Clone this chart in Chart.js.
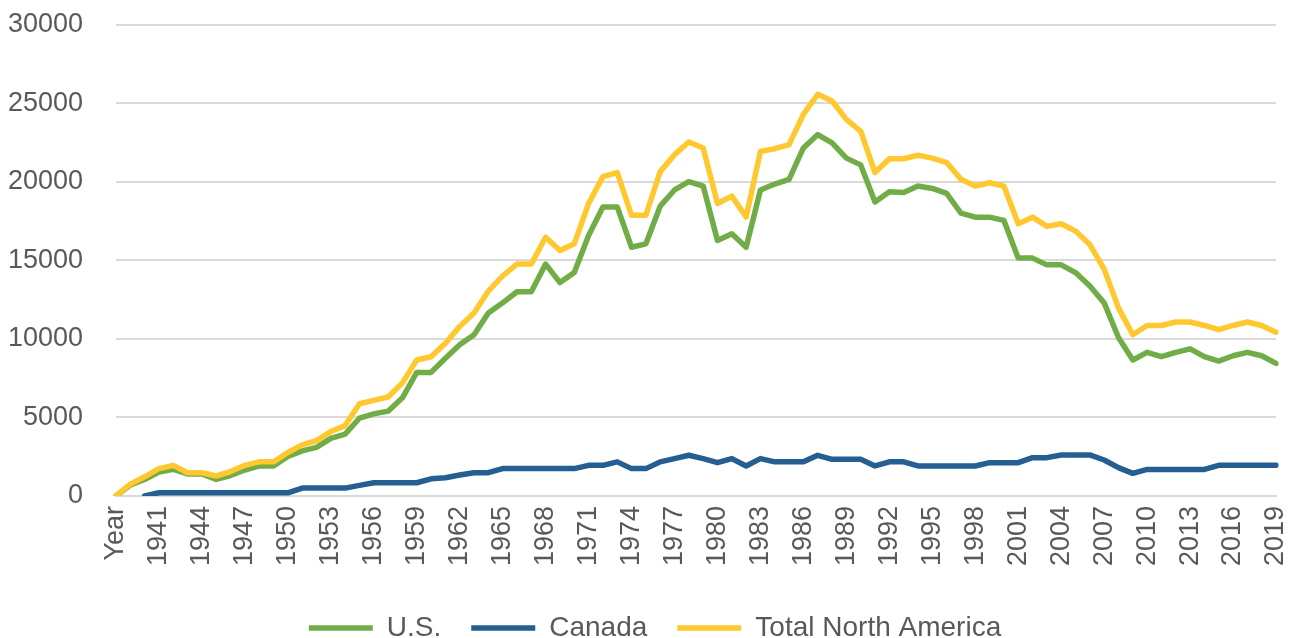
<!DOCTYPE html>
<html>
<head>
<meta charset="utf-8">
<script src="https://cdn.jsdelivr.net/npm/chart.js@4.4.0/dist/chart.umd.min.js"></script>
<style>
  html, body { margin: 0; padding: 0; background: #ffffff; }
  #wrap { width: 1290px; height: 638px; position: relative; }
</style>
</head>
<body>
<div id="wrap"><canvas id="prodChart"></canvas></div>
<script>
    // categories: header cell "Year" then 1939..2019
    const years = ['Year'];
    for (let y = 1939; y <= 2019; y++) years.push(String(y));

    const usValues = [
        0, 700, 1050, 1520, 1690, 1400, 1400, 1050, 1300, 1650,
        1910, 1910, 2510, 2870, 3090, 3670, 3940, 4950, 5230, 5400,
        6250, 7870, 7870, 8770, 9630, 10270, 11660, 12300, 13010, 13010,
        14770, 13590, 14230, 16590, 18410, 18410, 15840, 16060, 18460, 19490,
        20020, 19740, 16270, 16700, 15840, 19490, 19870, 20170, 22170, 23020,
        22490, 21520, 21090, 18730, 19380, 19330, 19740, 19590, 19270, 18020,
        17760, 17760, 17550, 15150, 15150, 14720, 14720, 14230, 13370, 12300,
        10090, 8660, 9150, 8870, 9150, 9370, 8870, 8590, 8930, 9150,
        8930, 8440
    ];

    const canadaValues = [
        null, null, 0, 200, 200, 200, 200, 200, 200, 200,
        200, 200, 200, 500, 500, 500, 500, 670, 840, 840,
        840, 840, 1090, 1160, 1330, 1480, 1480, 1740, 1740, 1740,
        1740, 1740, 1740, 1950, 1950, 2170, 1740, 1740, 2170, 2380,
        2590, 2380, 2120, 2380, 1910, 2380, 2170, 2170, 2170, 2590,
        2330, 2330, 2330, 1910, 2170, 2170, 1910, 1910, 1910, 1910,
        1910, 2120, 2120, 2120, 2440, 2440, 2610, 2610, 2610, 2290,
        1800, 1440, 1690, 1690, 1690, 1690, 1690, 1950, 1950, 1950,
        1950, 1950
    ];

    const totalValues = [
        0, 750, 1220, 1740, 1950, 1480, 1480, 1270, 1550, 1950,
        2170, 2170, 2770, 3250, 3520, 4100, 4480, 5870, 6090, 6300,
        7200, 8660, 8870, 9730, 10800, 11660, 13050, 14020, 14770, 14770,
        16480, 15630, 16060, 18630, 20340, 20600, 17880, 17880, 20660, 21740,
        22550, 22170, 18630, 19100, 17770, 21950, 22120, 22380, 24310, 25590,
        25160, 23990, 23230, 20600, 21480, 21480, 21700, 21520, 21240, 20170,
        19740, 19950, 19740, 17340, 17760, 17170, 17340, 16870, 16010, 14450,
        11980, 10270, 10860, 10860, 11080, 11080, 10860, 10590, 10860, 11080,
        10860, 10430
    ];

    const yTicks = [0, 5000, 10000, 15000, 20000, 25000, 30000];

    const textColor = '#595959';
    const gridColor = '#D9D9D9';
    const fontFamily = '"Liberation Sans", Arial, sans-serif';

    function lineSet(label, data, color, order) {
        return {
            label: label,
            data: data,
            borderColor: color,
            backgroundColor: color,
            borderWidth: 5.5,
            borderCapStyle: 'round',
            borderJoinStyle: 'round',
            pointRadius: 0,
            pointHoverRadius: 0,
            tension: 0,
            fill: false,
            spanGaps: false,
            order: order
        };
    }

    // legend sits a little right of centre in the original
    const legendShift = {
        id: 'legendShift',
        afterLayout(chart) {
            chart.legend.left += 13;
            chart.legend.right += 13;
        }
    };

    const ctx = document.getElementById('prodChart').getContext('2d');
    const prodChart = new Chart(ctx, {
        type: 'line',
        data: {
            labels: years,
            datasets: [
                lineSet('U.S.', usValues, '#70AD47', 2),
                lineSet('Canada', canadaValues, '#255E91', 1),
                lineSet('Total North America', totalValues, '#FFC82E', 0)
            ]
        },
        options: {
            responsive: true,
            maintainAspectRatio: false,
            animation: false,
            layout: {
                padding: { left: 8, right: 14, top: 25, bottom: -14 }
            },
            plugins: {
                tooltip: { enabled: false },
                legend: {
                    position: 'bottom',
                    labels: {
                        usePointStyle: true,
                        pointStyle: 'line',
                        pointStyleWidth: 64,
                        padding: 30,
                        color: textColor,
                        font: { family: fontFamily, size: 28 },
                        sort: (a, b) => a.datasetIndex - b.datasetIndex
                    }
                }
            },
            scales: {
                x: {
                    type: 'category',
                    offset: false,
                    grid: { display: false },
                    border: { display: true, color: gridColor, width: 2 },
                    ticks: {
                        autoSkip: false,
                        minRotation: 90,
                        maxRotation: 90,
                        padding: 2,
                        color: textColor,
                        font: { family: fontFamily, size: 27 },
                        callback: function (val, idx) {
                            return idx % 3 === 0 ? years[idx] : '';
                        }
                    },
                    afterFit: function (axis) {
                        // keep the axis band as tall as before, labels closer to the line
                        axis.height += 16;
                        axis.paddingLeft = 0;
                        axis.paddingRight = 0;
                    }
                },
                y: {
                    min: yTicks[0],
                    max: yTicks[yTicks.length - 1],
                    afterBuildTicks: function (axis) {
                        axis.ticks = yTicks.map(v => ({ value: v }));
                    },
                    grid: { color: gridColor, lineWidth: 2, drawTicks: false },
                    border: { display: false },
                    ticks: {
                        padding: 33,
                        color: textColor,
                        font: { family: fontFamily, size: 27 },
                        callback: function (value) {
                            return String(value);
                        }
                    },
                    afterFit: function (axis) {
                        // plot starts at x=116, labels end 33px before it
                        axis.width = 116 - 8;
                        axis.paddingTop = 0;
                        axis.paddingBottom = 0;
                    }
                }
            }
        },
        plugins: [legendShift]
    });
</script>
</body>
</html>
